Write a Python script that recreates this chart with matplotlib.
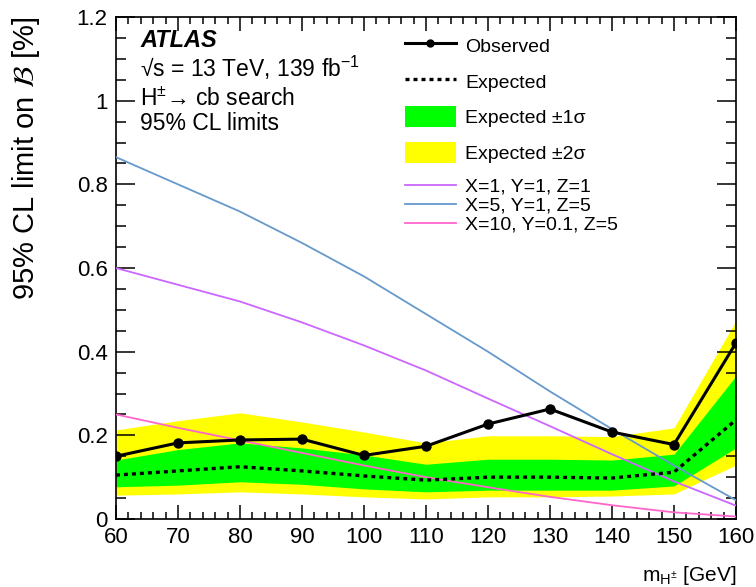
import numpy as np
import matplotlib
matplotlib.use("Agg")
import matplotlib.pyplot as plt
from matplotlib.lines import Line2D
from matplotlib.patches import Patch
from matplotlib.ticker import MultipleLocator, FormatStrFormatter

plt.rcParams["font.family"] = ["Liberation Sans", "DejaVu Sans"]
plt.rcParams["mathtext.fontset"] = "custom"
plt.rcParams["mathtext.rm"] = "Liberation Sans"
plt.rcParams["mathtext.it"] = "Liberation Sans:italic"
plt.rcParams["mathtext.bf"] = "Liberation Sans:bold"

# charged Higgs mass points [GeV]
mass = [60, 70, 80, 90, 100, 110, 120, 130, 140, 150, 160]

observed = [0.150, 0.182, 0.189, 0.191, 0.152, 0.174, 0.227, 0.263, 0.208, 0.178, 0.421]
expected = [0.105, 0.115, 0.125, 0.115, 0.103, 0.093, 0.100, 0.100, 0.098, 0.112, 0.237]
sig1_up = [0.141, 0.166, 0.182, 0.170, 0.153, 0.131, 0.143, 0.143, 0.141, 0.155, 0.342]
sig1_dn = [0.077, 0.081, 0.089, 0.083, 0.072, 0.065, 0.069, 0.069, 0.069, 0.079, 0.170]
sig2_up = [0.213, 0.235, 0.254, 0.232, 0.208, 0.182, 0.199, 0.199, 0.197, 0.218, 0.474]
sig2_dn = [0.057, 0.060, 0.065, 0.060, 0.053, 0.048, 0.053, 0.053, 0.055, 0.060, 0.129]

# benchmark model predictions
model_111 = [0.600, 0.560, 0.520, 0.470, 0.415, 0.355, 0.288, 0.222, 0.155, 0.090, 0.032]
model_515 = [0.865, 0.800, 0.735, 0.660, 0.580, 0.490, 0.400, 0.305, 0.215, 0.128, 0.045]
model_10 = [0.250, 0.218, 0.188, 0.158, 0.128, 0.100, 0.076, 0.053, 0.033, 0.016, 0.006]

c_purple = "#cc66ff"
c_blue = "#6699cc"
c_pink = "#ff66cc"

fig = plt.figure(figsize=(7.56, 5.87), dpi=100)
ax = fig.add_axes([0.1534, 0.1158, 0.8201, 0.8552])

ax.fill_between(mass, sig2_dn, sig2_up, color="#ffff00", lw=0, zorder=1)
ax.fill_between(mass, sig1_dn, sig1_up, color="#00ff00", lw=0, zorder=2)
ax.plot(mass, model_111, color=c_purple, lw=1.3, zorder=3)
ax.plot(mass, model_515, color=c_blue, lw=1.3, zorder=3)
ax.plot(mass, model_10, color=c_pink, lw=1.3, zorder=3)
ax.plot(mass, expected, color="black", lw=2.4, ls=(0, (1.2, 1.2)), zorder=4)
ax.plot(mass, observed, color="black", lw=2.2, marker="o", ms=6.5, zorder=5)

ax.set_xlim(60, 160)
ax.set_ylim(0, 1.2)
ax.xaxis.set_major_locator(MultipleLocator(10))
ax.xaxis.set_minor_locator(MultipleLocator(2))
ax.yaxis.set_major_locator(MultipleLocator(0.2))
ax.yaxis.set_minor_locator(MultipleLocator(0.05))
ax.yaxis.set_major_formatter(FormatStrFormatter("%g"))

ax.tick_params(axis="both", which="both", direction="in", top=True, right=True, width=1.1)
ax.tick_params(axis="x", which="major", length=10, labelsize=16, pad=6)
ax.tick_params(axis="x", which="minor", length=5)
ax.tick_params(axis="y", which="major", length=14, labelsize=16, pad=6)
ax.tick_params(axis="y", which="minor", length=7)
for sp in ax.spines.values():
    sp.set_linewidth(1.2)

ax.set_ylabel(r"95% CL limit on $\mathcal{B}$ [%]", fontsize=21,
              math_fontfamily="stix", loc="top", labelpad=25)
ax.set_xlabel(r"m$_{\mathregular{H^{\pm}}}$ [GeV]", fontsize=15, loc="right", labelpad=11)

ax.text(0.039, 0.940, "ATLAS", transform=ax.transAxes, fontsize=17,
        fontweight="bold", fontstyle="italic", va="baseline")
ax.text(0.039, 0.880, "√s = 13 TeV, 139 fb$^{-1}$", transform=ax.transAxes,
        fontsize=16.5, va="baseline")
ax.text(0.039, 0.824, "H$^{\\pm}$→ cb search", transform=ax.transAxes,
        fontsize=16.5, va="baseline")
ax.text(0.039, 0.774, "95% CL limits", transform=ax.transAxes,
        fontsize=16.5, va="baseline")

h1 = [
    Line2D([], [], color="black", lw=2.2, marker="o", ms=5),
    Line2D([], [], color="black", lw=2.4, ls=(0, (1.2, 1.2))),
    Patch(facecolor="#00ff00", edgecolor="none"),
    Patch(facecolor="#ffff00", edgecolor="none"),
]
l1 = ["Observed", "Expected", "Expected ±1σ", "Expected ±2σ"]
leg1 = fig.legend(h1, l1, loc="upper left", bbox_to_anchor=(0.5357, 0.941),
                  frameon=False, fontsize=14, handlelength=2.6, handleheight=1.3,
                  handletextpad=0.5, labelspacing=0.75, borderpad=0, borderaxespad=0)

h2 = [
    Line2D([], [], color=c_purple, lw=1.3),
    Line2D([], [], color=c_blue, lw=1.3),
    Line2D([], [], color=c_pink, lw=1.3),
]
l2 = ["X=1, Y=1, Z=1", "X=5, Y=1, Z=5", "X=10, Y=0.1, Z=5"]
leg2 = fig.legend(h2, l2, loc="upper left", bbox_to_anchor=(0.5357, 0.697),
                  frameon=False, fontsize=14, handlelength=2.6,
                  handletextpad=0.5, labelspacing=0.08, borderpad=0, borderaxespad=0)

fig.savefig("out.png", dpi=100)
